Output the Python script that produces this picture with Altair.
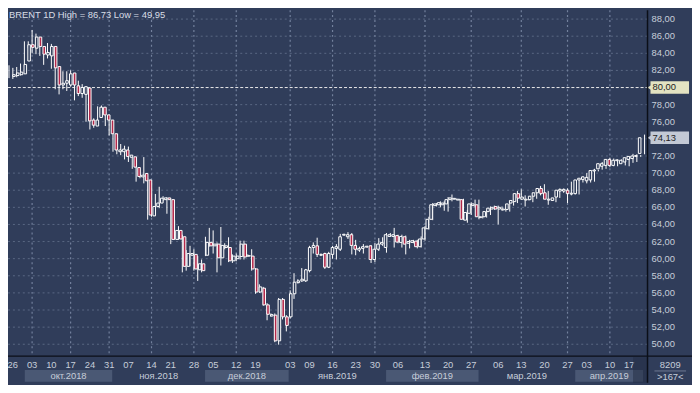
import altair as alt
import pandas as pd

# ---------------- data ----------------
OPEN = [81.3, 81.4, 81.5, 81.6, 83.1, 85.0, 84.6, 85.9, 84.8, 83.8,
        83.7, 84.8, 82.45, 80.3, 80.5, 80.3, 81.7, 80.2, 79.3, 79.2,
        79.95, 76.2, 75.5, 76.5, 77.7, 76.8, 76.2, 74.6, 72.5, 72.5,
        72.7, 71.85, 71.9, 70.65, 69.56, 69.95, 69.2, 65.0, 66.1, 66.5,
        66.9, 67.1, 66.9, 62.25, 63.3, 62.56, 59.1, 60.4, 60.5, 58.7,
        59.4, 60.4, 61.9, 61.5, 61.7, 60.1, 61.3, 61.3, 59.75, 60.0,
        60.25, 61.7, 60.3, 60.3, 58.8, 56.1, 56.55, 54.6, 53.3, 53.4,
        50.4, 55.24, 53.2, 53.2, 55.9, 57.2, 57.4, 57.4, 58.6, 61.3,
        61.5, 60.4, 60.6, 59.0, 60.5, 61.2, 61.1, 62.75, 62.56, 62.8,
        61.55, 61.0, 61.2, 61.35, 61.5, 59.9, 61.1, 61.7, 61.3, 62.6,
        62.6, 62.7, 61.9, 62.56, 61.8, 61.9, 62.05, 61.4, 62.3, 63.5,
        64.6, 66.2, 66.3, 66.3, 66.4, 66.9, 66.95, 66.85, 66.9, 64.5,
        65.3, 66.2, 66.3, 64.8, 64.9, 65.5, 65.8, 66.1, 65.8, 65.7,
        65.75, 66.5, 66.67, 67.6, 66.95, 66.85, 66.9, 67.3, 67.7, 68.2,
        67.7, 66.85, 66.8, 67.2, 67.9, 67.9, 68.0, 67.55, 67.6, 69.2,
        69.26, 69.1, 69.2, 70.25, 70.5, 70.8, 70.9, 71.6, 70.9, 71.45,
        71.1, 71.3, 71.6, 71.7, 71.95, 72.3]
HIGH = [82.6, 82.3, 82.4, 82.8, 85.4, 85.4, 86.73, 86.3, 85.2, 84.4,
        85.2, 85.1, 82.65, 81.5, 81.9, 81.9, 82.0, 80.3, 80.8, 80.4,
        80.0, 76.3, 76.4, 77.8, 77.9, 77.1, 76.5, 74.8, 73.0, 73.4,
        73.2, 73.1, 72.1, 71.0, 69.9, 71.87, 69.4, 67.56, 67.56, 68.4,
        67.3, 67.2, 67.0, 64.5, 63.8, 62.8, 61.0, 61.5, 61.1, 60.3,
        59.9, 62.56, 63.6, 63.3, 61.9, 63.7, 61.8, 62.5, 60.5, 60.6,
        62.1, 62.1, 60.5, 61.1, 58.9, 57.0, 56.7, 54.8, 53.6, 53.6,
        55.4, 55.4, 53.4, 56.3, 58.3, 57.6, 58.9, 58.8, 61.5, 61.9,
        62.45, 60.6, 60.7, 60.8, 61.5, 61.7, 62.9, 62.9, 63.1, 63.0,
        62.2, 61.4, 61.7, 61.5, 61.6, 61.8, 62.4, 62.5, 63.0, 63.0,
        63.6, 62.8, 62.8, 62.7, 62.2, 62.2, 62.2, 62.6, 63.8, 64.9,
        66.5, 66.5, 66.7, 66.7, 67.2, 67.5, 67.1, 67.0, 67.0, 65.7,
        66.6, 66.9, 66.9, 65.0, 65.7, 66.1, 66.2, 66.2, 66.1, 66.0,
        66.7, 67.0, 67.9, 68.1, 67.4, 67.0, 67.7, 68.0, 68.5, 68.7,
        67.9, 67.0, 67.3, 68.2, 68.2, 68.2, 69.0, 67.7, 69.3, 69.6,
        70.0, 70.2, 70.5, 70.4, 71.3, 71.2, 71.8, 71.7, 71.6, 71.6,
        71.7, 71.95, 72.25, 72.2, 72.1, 74.5]
LOW = [81.1, 81.0, 81.2, 81.4, 82.6, 84.6, 84.0, 83.9, 83.7, 82.65,
       83.4, 82.2, 79.8, 79.2, 79.8, 79.6, 80.1, 78.5, 79.0, 78.8,
       76.0, 75.1, 75.3, 75.8, 76.5, 75.5, 74.4, 72.5, 72.2, 72.1,
       71.6, 71.3, 70.5, 69.0, 69.4, 68.8, 64.56, 64.9, 65.7, 65.9,
       66.7, 65.25, 61.7, 62.2, 62.2, 58.4, 58.6, 59.1, 58.6, 57.4,
       58.4, 60.3, 61.4, 60.6, 58.4, 59.2, 61.1, 59.6, 59.5, 59.7,
       59.9, 59.9, 60.2, 58.6, 55.9, 56.0, 54.5, 52.8, 53.2, 50.24,
       49.95, 52.9, 51.5, 53.0, 55.3, 57.1, 57.3, 57.3, 58.4, 60.6,
       60.2, 60.3, 58.8, 58.9, 60.0, 59.9, 60.9, 62.7, 62.3, 60.5,
       60.4, 60.8, 60.6, 61.3, 59.5, 59.6, 60.9, 61.5, 60.7, 62.55,
       61.3, 61.8, 61.3, 60.5, 61.2, 61.8, 61.2, 61.3, 62.1, 63.4,
       64.5, 66.1, 66.0, 65.6, 65.5, 66.7, 66.9, 66.8, 64.5, 64.2,
       65.1, 66.0, 64.6, 64.7, 64.8, 65.1, 65.7, 64.0, 65.6, 65.5,
       65.5, 66.2, 66.5, 66.9, 66.1, 66.8, 66.6, 67.0, 67.4, 67.3,
       66.3, 66.8, 66.6, 67.1, 67.7, 66.5, 67.4, 67.5, 67.5, 68.9,
       68.8, 68.9, 69.0, 70.2, 70.4, 70.5, 70.7, 70.8, 70.8, 71.4,
       70.9, 70.8, 71.2, 71.3, 71.9, 72.2]
CLOSE = [81.5, 81.7, 81.8, 82.7, 85.0, 84.7, 85.9, 84.8, 83.9, 84.1,
         84.8, 82.3, 80.3, 80.5, 80.8, 81.6, 80.3, 79.3, 80.0, 80.1,
         76.1, 75.6, 76.2, 77.7, 76.8, 76.2, 74.6, 72.7, 72.7, 72.8,
         71.95, 72.1, 70.7, 69.6, 69.76, 69.1, 65.1, 66.1, 66.5, 67.07,
         67.1, 66.9, 62.25, 63.3, 62.3, 59.1, 60.6, 60.6, 58.8, 59.4,
         58.6, 61.9, 61.5, 61.7, 60.1, 61.55, 61.5, 59.75, 60.3, 60.3,
         61.7, 60.2, 60.35, 58.8, 56.1, 56.7, 54.6, 53.5, 53.46, 50.4,
         55.24, 53.2, 52.2, 55.9, 57.25, 57.4, 57.6, 58.7, 61.3, 61.55,
         60.5, 60.5, 59.0, 60.6, 61.3, 61.4, 62.56, 62.85, 62.8, 61.55,
         61.1, 61.2, 61.4, 61.45, 59.9, 61.1, 61.7, 61.9, 62.8, 62.8,
         62.8, 61.94, 62.6, 61.7, 62.0, 62.1, 61.4, 62.3, 63.6, 64.6,
         66.3, 66.4, 66.55, 66.5, 66.9, 67.1, 67.05, 66.95, 64.6, 65.4,
         66.4, 66.4, 64.9, 64.9, 65.5, 65.9, 66.0, 65.8, 66.0, 65.8,
         66.4, 66.8, 67.6, 67.07, 67.2, 66.95, 67.3, 67.7, 68.2, 67.6,
         66.95, 66.95, 67.1, 68.0, 68.1, 68.1, 67.6, 67.65, 69.2, 69.4,
         69.56, 69.5, 70.3, 70.35, 71.1, 71.1, 71.6, 70.9, 71.5, 71.55,
         71.5, 71.8, 71.95, 72.0, 72.05, 74.13]

X_TICKS = [2, 7, 12, 17, 22, 27, 32, 38, 43, 49, 54, 60, 65, 74, 79, 85, 91,
           96, 102, 109, 115, 121, 128, 134, 140, 146, 151, 157, 162]
X_LABELS = ["26", "03", "10", "17", "24", "31", "07", "14", "21", "28", "05",
            "12", "19", "03", "09", "16", "23", "30", "06", "13", "20", "27",
            "06", "13", "20", "27", "03", "10", "17"]
X_GRID = [7, 17, 27, 38, 49, 60, 74, 85, 96, 109, 121, 134, 146, 157]
Y_GRID = [50, 52, 54, 56, 58, 60, 62, 64, 66, 68, 70, 72, 74, 76, 78, 80,
          82, 84, 86, 88]
Y_LABELS = ["50,00", "52,00", "54,00", "56,00", "58,00", "60,00", "62,00",
            "64,00", "66,00", "68,00", "70,00", "72,00", "74,00", "76,00",
            "78,00", "80,00", "82,00", "84,00", "86,00", "88,00"]

MONTH_START = [5.1, 27.8, 51.9, 73.6, 98.9, 122.9, 148.0]
MONTH_END = [27.8, 51.9, 73.6, 98.9, 122.9, 148.0, 165.6]
MONTH_LABEL = ["окт.2018", "ноя.2018", "дек.2018", "янв.2019", "фев.2019",
               "мар.2019", "апр.2019"]
MONTH_SHADED = [True, False, True, False, True, False, True]

MARK_PRICE = [80.0, 74.13]
MARK_TEXT = ["80,00", "74,13"]
MARK_FILL = ["#e3e3c2", "#c3c9d5"]

TITLE = "BRENT 1D High = 86,73 Low = 49,95"
CORNER_TOP = "8209"
CORNER_BOTTOM = ">167<"
LEVEL = [80.0]
SHADE_RANGE = [163.0, 166.77]

# ---------------- style ----------------
BG = "#303d5a"
GRID = "#5a6884"
GRID_V = "#73819d"
TXT = "#c6cdd9"
RED = "#b3284a"
BOX = "#4a5874"
DARK = "#0b0f18"
FONT = "Liberation Sans"
W, H = 647, 350
X_DOM = [0.743, 166.77]
Y_DOM = [48.61, 89.04]

df = pd.DataFrame({"i": list(range(1, len(OPEN) + 1)), "o": OPEN, "h": HIGH,
                   "l": LOW, "c": CLOSE})
df["top"] = df[["o", "c"]].max(axis=1)
df["bot"] = df[["o", "c"]].min(axis=1)
df["up"] = df["c"] >= df["o"]

xscale = alt.Scale(domain=X_DOM, nice=False, zero=False)
yscale = alt.Scale(domain=Y_DOM, nice=False, zero=False)

# vertical dashed grid (every second week)
gx = alt.Chart(pd.DataFrame({"g": X_GRID})).mark_rule(
    color=GRID_V, strokeDash=[2, 3], strokeWidth=1.2).encode(
    x=alt.X("g:Q", scale=xscale, axis=None),
    y=alt.value(0), y2=alt.value(H))
# horizontal dashed grid + price labels
ydf = pd.DataFrame({"g": Y_GRID, "t": Y_LABELS})
gy = alt.Chart(ydf).mark_rule(
    color=GRID, strokeDash=[2, 3], strokeWidth=1).encode(
    y=alt.Y("g:Q", scale=yscale, axis=None),
    x=alt.value(0), x2=alt.value(W))
ylab = alt.Chart(ydf).mark_text(
    color=TXT, font=FONT, fontSize=9.5, align="left",
    baseline="middle").encode(
    y=alt.Y("g:Q", scale=yscale, axis=None), x=alt.value(651), text="t:N")

wicks = alt.Chart(df).mark_rule(color="white", strokeWidth=1).encode(
    x=alt.X("i:Q", scale=xscale, axis=None),
    y=alt.Y("l:Q", scale=yscale, axis=None),
    y2="h:Q",
)
bodies = alt.Chart(df).mark_bar(size=2.6, stroke="white", strokeWidth=1).encode(
    x=alt.X("i:Q", scale=xscale, axis=None),
    y=alt.Y("bot:Q", scale=yscale, axis=None),
    y2="top:Q",
    fill=alt.condition("datum.up", alt.value(BG), alt.value(RED)),
)

# x tick labels (bottom band)
xt = alt.Chart(pd.DataFrame({"v": X_TICKS, "t": X_LABELS})).mark_text(
    color=TXT, font=FONT, fontSize=9.5, baseline="middle",
    align="center").encode(
    x=alt.X("v:Q", scale=xscale, axis=None), y=alt.value(358.5), text="t:N")

mdf = pd.DataFrame({"s": MONTH_START, "e": MONTH_END, "lab": MONTH_LABEL,
                    "sh": MONTH_SHADED})
mdf["m"] = (mdf["s"] + mdf["e"]) / 2
month_box = alt.Chart(mdf[mdf["sh"]]).mark_rect(color=BOX).encode(
    x=alt.X("s:Q", scale=xscale, axis=None), x2="e:Q",
    y=alt.value(364), y2=alt.value(376))
month_txt = alt.Chart(mdf).mark_text(color=TXT, font=FONT, fontSize=9.5,
                                     baseline="middle", align="center").encode(
    x=alt.X("m:Q", scale=xscale, axis=None), y=alt.value(370.5), text="lab:N")

shade = alt.Chart(pd.DataFrame({"s": [SHADE_RANGE[0]], "e": [SHADE_RANGE[1]]})
                  ).mark_rect(color="#222c42", opacity=0.5).encode(
    x=alt.X("s:Q", scale=xscale, axis=None), x2="e:Q",
    y=alt.value(351), y2=alt.value(377))

level = alt.Chart(pd.DataFrame({"p": LEVEL})).mark_rule(
    color="#e8e8e8", strokeDash=[3, 2], strokeWidth=1).encode(
    y=alt.Y("p:Q", scale=yscale, axis=None),
    x=alt.value(0), x2=alt.value(W))

hdf = pd.DataFrame({"p": MARK_PRICE, "t": MARK_TEXT, "f": MARK_FILL})
hdf["pt"] = hdf["p"] + 0.72
hdf["pb"] = hdf["p"] - 0.72
hl_box = alt.Chart(hdf).mark_rect().encode(
    x=alt.value(650), x2=alt.value(689),
    y=alt.Y("pt:Q", scale=yscale, axis=None), y2="pb:Q",
    fill=alt.Color("f:N", scale=None))
hl_arrow = alt.Chart(hdf).mark_point(shape="triangle-left", filled=True,
                                     size=28, opacity=1).encode(
    x=alt.value(649), y=alt.Y("p:Q", scale=yscale, axis=None),
    color=alt.Color("f:N", scale=None))
hl_txt = alt.Chart(hdf).mark_text(align="left", baseline="middle",
                                  color="#1e1e1e", font=FONT,
                                  fontSize=9.5).encode(
    x=alt.value(652), y=alt.Y("p:Q", scale=yscale, axis=None), text="t:N")

title = alt.Chart(pd.DataFrame({"t": [TITLE]})).mark_text(
    align="left", baseline="middle", color="#d9dee7", font=FONT,
    fontSize=9.5).encode(x=alt.value(1), y=alt.value(4.5), text="t:N")

one = pd.DataFrame({"a": [0]})
vline = alt.Chart(one).mark_rule(color=DARK, strokeWidth=1.5).encode(
    x=alt.value(W), y=alt.value(0), y2=alt.value(377))
hline = alt.Chart(one).mark_rule(color=DARK, strokeWidth=1.5).encode(
    x=alt.value(0), x2=alt.value(692), y=alt.value(H))
sep = alt.Chart(one).mark_rule(color="#6d7993", strokeWidth=1).encode(
    x=alt.value(654), x2=alt.value(686), y=alt.value(365))
corner_top = alt.Chart(pd.DataFrame({"t": [CORNER_TOP]})).mark_text(
    align="center", baseline="middle", color=TXT, font=FONT,
    fontSize=9.5).encode(x=alt.value(670), y=alt.value(358.5), text="t:N")
corner_bot = alt.Chart(pd.DataFrame({"t": [CORNER_BOTTOM]})).mark_text(
    align="center", baseline="middle", color=TXT, font=FONT,
    fontSize=9.5).encode(x=alt.value(670), y=alt.value(371), text="t:N")

chart = alt.layer(
    gy, gx, ylab, month_box, month_txt, xt, shade, level, wicks, bodies,
    hl_box, hl_arrow, hl_txt, title, vline, hline, sep, corner_top,
    corner_bot
).resolve_scale(x="independent", y="independent").properties(
    width=W, height=H, background=BG,
    autosize=alt.AutoSizeParams(type="none"),
    padding={"left": 0, "top": 0, "right": 45, "bottom": 27},
).configure_view(stroke=None)

chart.save("out.html", embed_options={"renderer": "svg", "actions": False})
